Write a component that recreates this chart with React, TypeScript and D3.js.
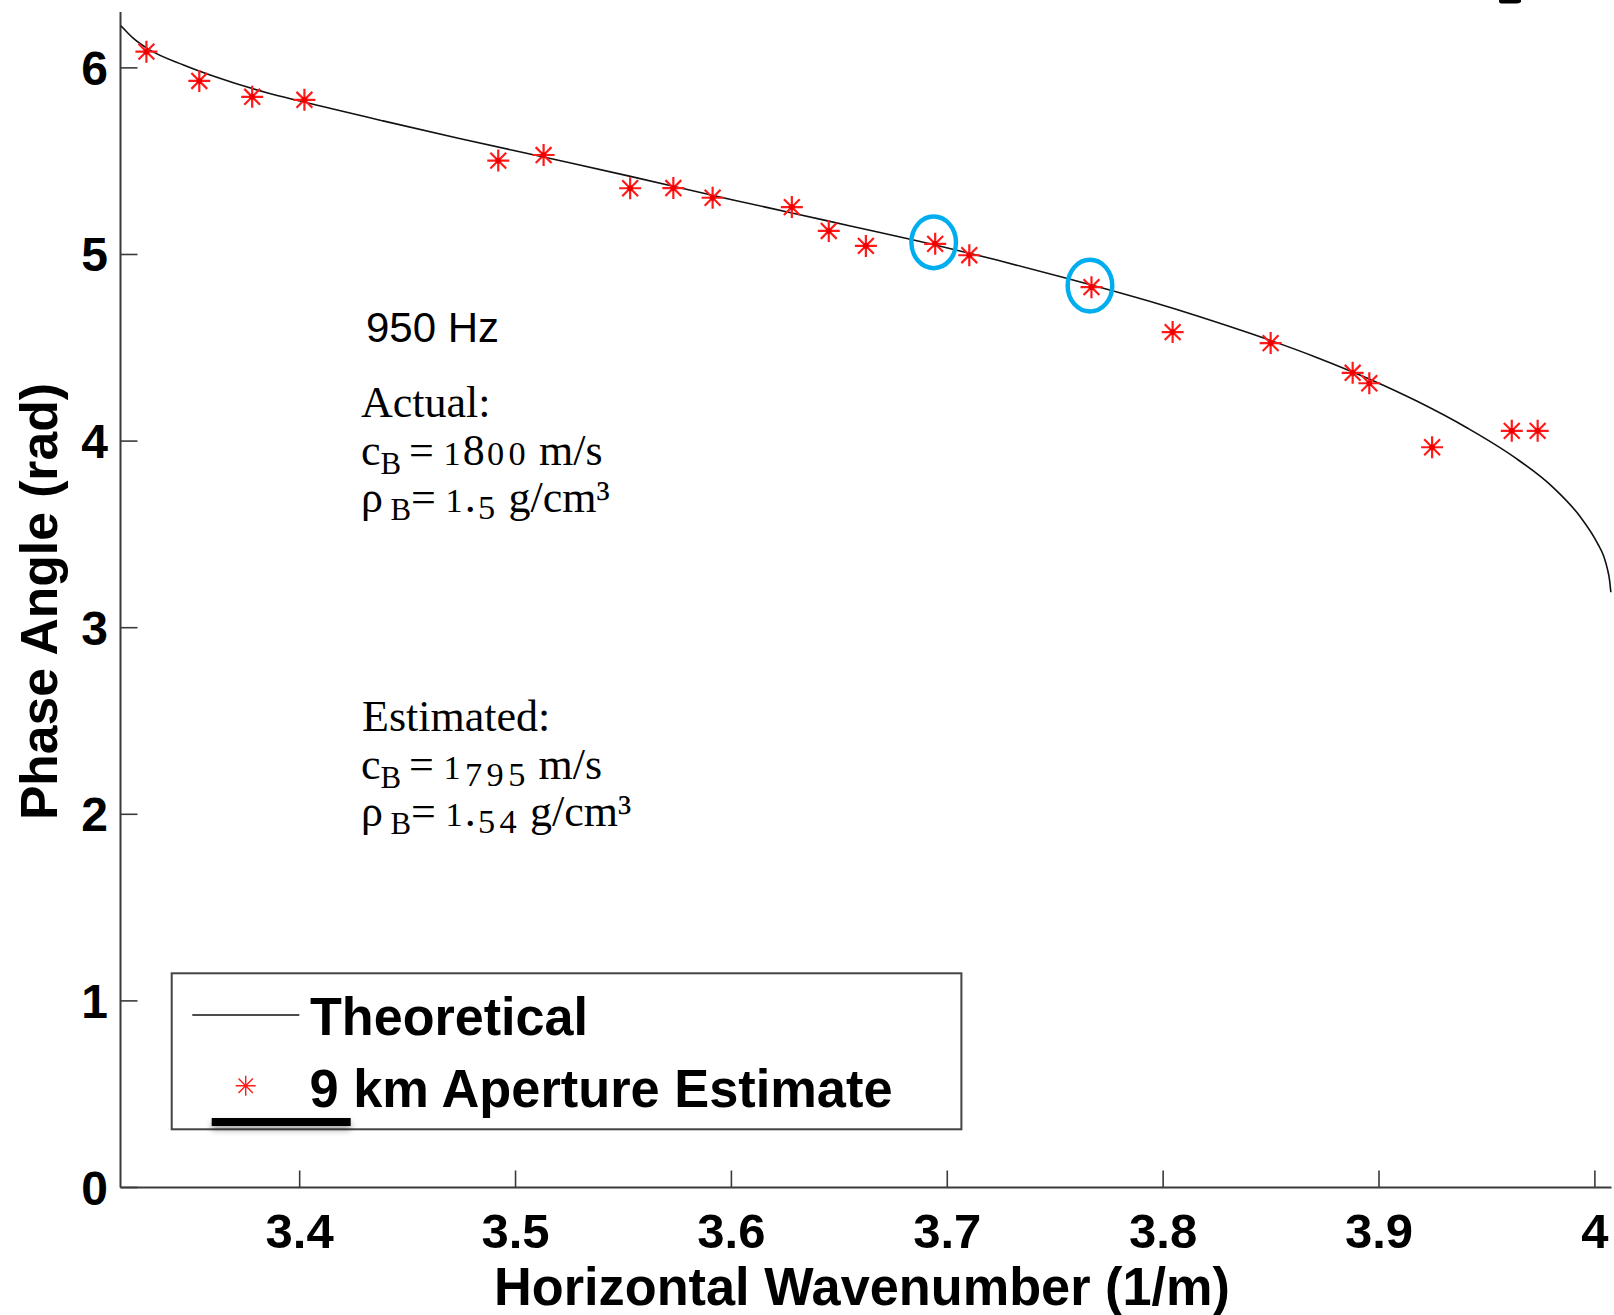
import React from 'react';
import * as d3 from 'd3';

const W = 1614;
const H = 1315;

// Theoretical curve (horizontal wavenumber, phase angle)
const curveK = [
  3.3172, 3.323, 3.3307, 3.3462, 3.3616, 3.3848, 3.4002, 3.4386, 3.474, 3.513,
  3.5527, 3.5992, 3.6291, 3.6551, 3.6844, 3.723, 3.7539, 3.7941, 3.8177, 3.8409,
  3.8714, 3.896, 3.9177, 3.9409, 3.9625, 3.981, 3.9934, 4.0011, 4.0042, 4.0058,
  4.0068, 4.0074,
];
const curvePhase = [
  6.226, 6.158, 6.095, 6.016, 5.95, 5.867, 5.822, 5.716, 5.622, 5.522,
  5.42, 5.296, 5.22, 5.153, 5.078, 4.97, 4.877, 4.748, 4.664, 4.575,
  4.447, 4.33, 4.213, 4.07, 3.915, 3.748, 3.592, 3.455, 3.38, 3.315,
  3.255, 3.19,
];

// 9 km aperture estimates
const estK = [
  3.329, 3.3535, 3.378, 3.4022, 3.492, 3.513, 3.5531, 3.5731, 3.5913, 3.628, 3.6451,
  3.6623, 3.6944, 3.7102, 3.7668, 3.8044, 3.8498, 3.8878, 3.8955, 3.9246, 3.9615, 3.9735,
];
const estPhase = [
  6.087, 5.93, 5.845, 5.829, 5.503, 5.533, 5.355, 5.356, 5.304, 5.254, 5.126,
  5.046, 5.057, 4.996, 4.825, 4.584, 4.525, 4.366, 4.31, 3.967, 4.055, 4.055,
];
const circledIdx = [12, 14];

const xTicks = [3.4, 3.5, 3.6, 3.7, 3.8, 3.9, 4];
const xTickLabels = ['3.4', '3.5', '3.6', '3.7', '3.8', '3.9', '4'];
const yTicks = [0, 1, 2, 3, 4, 5, 6];
const yTickLabels = ['0', '1', '2', '3', '4', '5', '6'];

const xTitle = 'Horizontal Wavenumber (1/m)';
const yTitle = 'Phase Angle (rad)';
const legendLabels = ['Theoretical', '9 km Aperture Estimate'];
const freqLabel = '950 Hz';
const actualTitle = 'Actual:';
const actualC = '1800';
const actualRho = '1.5';
const estTitle = 'Estimated:';
const estC = '1795';
const estRho = '1.54';

const SANS = "'Liberation Sans', Arial, Helvetica, sans-serif";
const SERIF = "'Liberation Serif', 'Times New Roman', serif";

type Seg = { t: string; s?: number; sh?: number; pad?: number; dxb?: number };

// old-style figure look: short digits (0,1,2), descending digits (3,4,5,7,9), tall (6,8)
function digitSegs(str: string): Seg[] {
  return str.split('').map((c, i) => {
    const dxb = i === 0 ? -0.08 : 0;
    if ('012'.includes(c)) return { t: c, s: 0.78, sh: 0, pad: 0.05, dxb };
    if ('34579'.includes(c)) return { t: c, s: 0.78, sh: 0.17, pad: 0.05, dxb };
    return { t: c, dxb };
  });
}

function SerifLine({ x, y, segs, F }: { x: number; y: number; segs: Seg[]; F: number }) {
  let cur = 0;
  let pend = 0;
  return (
    <text x={x} y={y} fontSize={F} fontFamily={SERIF} fill="#000" style={{ whiteSpace: 'pre' }}>
      {segs.map((g, i) => {
        const sh = (g.sh || 0) * F;
        const dy = sh - cur;
        cur = sh;
        const pad = (g.pad || 0) * F;
        const dx = pend + pad + (g.dxb || 0) * F;
        pend = pad;
        return (
          <tspan key={i} dx={dx || undefined} dy={dy || undefined} fontSize={(g.s || 1) * F}>
            {g.t}
          </tspan>
        );
      })}
    </text>
  );
}

function starPath(r: number) {
  const a = r * 0.72;
  return `M0,${-r}V${r}M${-r},0H${r}M${-a},${-a}L${a},${a}M${-a},${a}L${a},${-a}`;
}

export default function App() {
  const x = d3.scaleLinear().domain([3.317, 4.0077]).range([120.5, 1611.5]);
  const y = d3.scaleLinear().domain([0, 6.3]).range([1187.5, 11.9]);

  const pts: [number, number][] = curveK.map((k, i) => [k, curvePhase[i]]);
  const line = d3
    .line<[number, number]>()
    .x((d) => x(d[0]))
    .y((d) => y(d[1]))
    .curve(d3.curveMonotoneX);

  const axisColor = '#3a3a3a';
  const tickLen = 17;
  const F = 44;

  const cLine = (val: string): Seg[] => [
    { t: 'c' },
    { t: 'B', s: 0.7, sh: 0.2 },
    { t: ' = ', dxb: -0.07 },
    ...digitSegs(val),
    { t: ' m/s' },
  ];
  const rhoLine = (val: string): Seg[] => [
    { t: 'ρ ' },
    { t: 'B', s: 0.7, sh: 0.2, dxb: -0.08 },
    { t: '= ' },
    ...digitSegs(val),
    { t: ' g/cm³' },
  ];

  return (
    <svg
      width={W}
      height={H}
      viewBox={`0 0 ${W} ${H}`}
      style={{ position: 'absolute', left: 0, top: 0, background: '#fff' }}
    >
      <defs>
        <filter id="shadow" x="-20%" y="-100%" width="140%" height="400%">
          <feDropShadow dx="0" dy="4" stdDeviation="3" floodColor="#000" floodOpacity="0.35" />
        </filter>
      </defs>
      <rect x={0} y={0} width={W} height={H} fill="#fff" />

      {/* axes */}
      <line x1={x.range()[0]} x2={x.range()[1]} y1={y(0)} y2={y(0)} stroke={axisColor} strokeWidth={2} />
      <line x1={x.range()[0]} x2={x.range()[0]} y1={y(0)} y2={y.range()[1]} stroke={axisColor} strokeWidth={2} />
      {xTicks.map((t, i) => (
        <g key={`xt${i}`}>
          <line x1={x(t)} x2={x(t)} y1={y(0)} y2={y(0) - tickLen} stroke={axisColor} strokeWidth={1.6} />
          <text
            x={x(t)}
            y={1247.5}
            textAnchor="middle"
            fontFamily={SANS}
            fontWeight="bold"
            fontSize={49}
            fill="#000"
          >
            {xTickLabels[i]}
          </text>
        </g>
      ))}
      {yTicks.map((t, i) => (
        <g key={`yt${i}`}>
          <line x1={x.range()[0]} x2={x.range()[0] + tickLen} y1={y(t)} y2={y(t)} stroke={axisColor} strokeWidth={1.6} />
          <text
            x={108}
            y={y(t) + 17}
            textAnchor="end"
            fontFamily={SANS}
            fontWeight="bold"
            fontSize={48}
            fill="#000"
          >
            {yTickLabels[i]}
          </text>
        </g>
      ))}

      <text
        x={862}
        y={1305}
        textAnchor="middle"
        fontFamily={SANS}
        fontWeight="bold"
        fontSize={53}
        textLength={736}
        lengthAdjust="spacingAndGlyphs"
        fill="#000"
      >
        {xTitle}
      </text>
      <text
        transform="translate(57,601.6) rotate(-90)"
        textAnchor="middle"
        fontFamily={SANS}
        fontWeight="bold"
        fontSize={52}
        textLength={437}
        lengthAdjust="spacingAndGlyphs"
        fill="#000"
      >
        {yTitle}
      </text>

      {/* theoretical curve */}
      <path d={line(pts) || ''} fill="none" stroke="#111" strokeWidth={1.6} />

      {/* estimates */}
      {estK.map((k, i) => (
        <g key={`s${i}`} transform={`translate(${x(k)},${y(estPhase[i])})`}>
          <path d={starPath(11)} stroke="#ff1a1a" strokeWidth={2.2} fill="none" />
          <circle r={2.8} fill="#ee0000" />
        </g>
      ))}

      {/* highlight circles */}
      {circledIdx.map((i) => (
        <ellipse
          key={`c${i}`}
          cx={x(estK[i]) - 1.5}
          cy={y(estPhase[i]) - 1.5}
          rx={22.3}
          ry={25.8}
          fill="none"
          stroke="#00AEEF"
          strokeWidth={4.5}
        />
      ))}

      {/* annotations */}
      <text x={366} y={341.7} fontFamily={SANS} fontSize={42} fill="#000">
        {freqLabel}
      </text>
      <SerifLine x={361} y={417} F={F} segs={[{ t: actualTitle }]} />
      <SerifLine x={361} y={465} F={F} segs={cLine(actualC)} />
      <SerifLine x={361} y={511.5} F={F} segs={rhoLine(actualRho)} />
      <SerifLine x={362} y={731} F={F} segs={[{ t: estTitle }]} />
      <SerifLine x={361} y={779} F={F} segs={cLine(estC)} />
      <SerifLine x={361} y={825.5} F={F} segs={rhoLine(estRho)} />

      {/* legend */}
      <rect x={171.7} y={973.3} width={789.7} height={156} fill="#fff" stroke="#444" strokeWidth={2} />
      <line x1={192.3} x2={299.3} y1={1015} y2={1015} stroke="#111" strokeWidth={1.6} />
      <g transform="translate(245.7,1085.7)">
        <path d={starPath(10)} stroke="#ff1a1a" strokeWidth={1.4} fill="none" />
      </g>
      <text
        x={310}
        y={1034.5}
        fontFamily={SANS}
        fontWeight="bold"
        fontSize={53}
        textLength={278}
        lengthAdjust="spacingAndGlyphs"
        fill="#000"
      >
        {legendLabels[0]}
      </text>
      <text
        x={309.5}
        y={1106.5}
        fontFamily={SANS}
        fontWeight="bold"
        fontSize={53}
        textLength={583}
        lengthAdjust="spacingAndGlyphs"
        fill="#000"
      >
        {legendLabels[1]}
      </text>
      <rect x={211.7} y={1118} width={139} height={8} fill="#000" filter="url(#shadow)" />

      {/* cropped glyph fragment at top right */}
      <path d="M1499,0 H1521 V2 Q1519,3.5 1516,3.5 H1501 Q1499,3 1499,1.5 Z" fill="#000" />
    </svg>
  );
}
